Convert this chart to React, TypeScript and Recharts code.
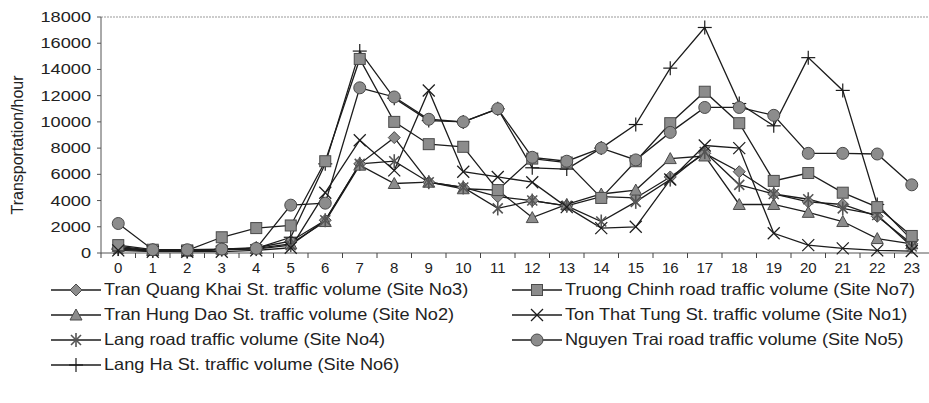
import React from "react";
import {
  LineChart,
  Line,
  XAxis,
  YAxis,
  ReferenceLine,
} from "recharts";

const hours = [0, 1, 2, 3, 4, 5, 6, 7, 8, 9, 10, 11, 12, 13, 14, 15, 16, 17, 18, 19, 20, 21, 22, 23];
const yTicks = [0, 2000, 4000, 6000, 8000, 10000, 12000, 14000, 16000, 18000];

const tranQuangKhai = [400, 200, 150, 300, 400, 900, 2500, 6800, 8800, 5400, 5000, 4300, 4000, 3600, 4300, 4200, 5800, 7600, 6200, 4500, 3900, 3700, 2800, 700];
const tranHungDao = [500, 200, 150, 300, 350, 700, 2400, 6700, 5300, 5400, 4900, 4800, 2700, 3700, 4500, 4800, 7200, 7400, 3700, 3700, 3100, 2400, 1100, 700];
const langRoad = [300, 150, 100, 250, 300, 600, 2500, 6800, 7000, 5400, 5000, 3400, 4000, 3600, 2400, 3900, 5600, 7700, 5200, 4500, 4100, 3400, 2900, 500];
const langHa = [300, 200, 150, 300, 350, 1200, 6800, 15400, 11800, 10100, 10000, 11000, 6500, 6400, 8000, 9800, 14100, 17200, 11400, 9700, 14900, 12400, 3700, 1000];
const truongChinh = [600, 250, 200, 1200, 1900, 2100, 7000, 14800, 10000, 8300, 8100, 4800, 7200, 6900, 4200, 7000, 9900, 12300, 9900, 5500, 6100, 4600, 3500, 1300];
const tonThatTung = [200, 100, 100, 100, 200, 400, 4600, 8600, 6300, 12400, 6200, 5800, 5400, 3500, 1900, 2000, 5600, 8200, 8000, 1500, 600, 350, 200, 150];
const nguyenTrai = [2250, 250, 250, 300, 350, 3650, 3800, 12600, 11900, 10200, 10000, 11000, 7300, 7000, 8000, 7100, 9200, 11100, 11100, 10500, 7600, 7600, 7550, 5200];

type Shape = "diamond" | "triangle" | "asterisk" | "plus" | "square" | "x" | "circle";

const series: { key: string; name: string; shape: Shape; values: number[] }[] = [
  { key: "s3", name: "Tran Quang Khai St. traffic volume (Site No3)", shape: "diamond", values: tranQuangKhai },
  { key: "s2", name: "Tran Hung Dao St. traffic volume (Site No2)", shape: "triangle", values: tranHungDao },
  { key: "s4", name: "Lang road traffic volume (Site No4)", shape: "asterisk", values: langRoad },
  { key: "s6", name: "Lang Ha St. traffic volume (Site No6)", shape: "plus", values: langHa },
  { key: "s7", name: "Truong Chinh road traffic volume (Site No7)", shape: "square", values: truongChinh },
  { key: "s1", name: "Ton That Tung St. traffic volume (Site No1)", shape: "x", values: tonThatTung },
  { key: "s5", name: "Nguyen Trai road traffic volume (Site No5)", shape: "circle", values: nguyenTrai },
];

const data = hours.map((h, i) => {
  const row: Record<string, number> = { hour: h };
  series.forEach((s) => (row[s.key] = s.values[i]));
  return row;
});

const FILL = "#8c8c8c";
const EDGE = "#4a4a4a";
const INK = "#1c1c1c";

function Marker({ shape, cx, cy }: { shape: Shape; cx: number; cy: number }) {
  switch (shape) {
    case "diamond":
      return (
        <polygon
          points={`${cx},${cy - 6} ${cx + 6},${cy} ${cx},${cy + 6} ${cx - 6},${cy}`}
          fill={FILL}
          stroke={EDGE}
          strokeWidth={1}
        />
      );
    case "triangle":
      return (
        <polygon
          points={`${cx},${cy - 6} ${cx + 6},${cy + 5} ${cx - 6},${cy + 5}`}
          fill={FILL}
          stroke={EDGE}
          strokeWidth={1}
        />
      );
    case "square":
      return <rect x={cx - 5.5} y={cy - 5.5} width={11} height={11} fill={FILL} stroke={EDGE} strokeWidth={1} />;
    case "circle":
      return <circle cx={cx} cy={cy} r={6} fill={FILL} stroke={EDGE} strokeWidth={1} />;
    case "x":
      return (
        <g stroke={INK} strokeWidth={1.3}>
          <line x1={cx - 6} y1={cy - 6} x2={cx + 6} y2={cy + 6} />
          <line x1={cx - 6} y1={cy + 6} x2={cx + 6} y2={cy - 6} />
        </g>
      );
    case "asterisk":
      return (
        <g stroke="#555" strokeWidth={1.6}>
          <line x1={cx - 5} y1={cy - 5} x2={cx + 5} y2={cy + 5} />
          <line x1={cx - 5} y1={cy + 5} x2={cx + 5} y2={cy - 5} />
          <line x1={cx} y1={cy - 7} x2={cx} y2={cy + 7} />
        </g>
      );
    case "plus":
      return (
        <g stroke={INK} strokeWidth={1.2}>
          <line x1={cx - 7} y1={cy} x2={cx + 7} y2={cy} />
          <line x1={cx} y1={cy - 7} x2={cx} y2={cy + 7} />
        </g>
      );
  }
  return null;
}

const makeDot = (shape: Shape) => (props: any) => {
  const { cx, cy, index } = props;
  if (cx == null || cy == null) return <g key={`${shape}-${index}`} />;
  return (
    <g key={`${shape}-${index}`}>
      <Marker shape={shape} cx={cx} cy={cy} />
    </g>
  );
};

const XTick = (props: any) => {
  const { x, y, payload } = props;
  return (
    <g>
      <line x1={x - 17.25} y1={y} x2={x - 17.25} y2={y + 5} stroke="#444" />
      <text x={x} y={y + 20} textAnchor="middle" fontSize={15} fill="#222" fontFamily="Liberation Sans, Arial">
        {payload.value}
      </text>
    </g>
  );
};

const YTick = (props: any) => {
  const { x, y, payload } = props;
  return (
    <text
      transform={`translate(${x - 2},${y + 5}) scale(1.3,1)`}
      textAnchor="end"
      fontSize={14}
      fill="#222"
      fontFamily="Liberation Sans, Arial"
    >
      {payload.value}
    </text>
  );
};

function LegendItem({ shape, name }: { shape: Shape; name: string }) {
  return (
    <div style={{ display: "flex", alignItems: "center", height: 25, whiteSpace: "nowrap" }}>
      <svg width={50} height={16} style={{ marginRight: 3, flex: "none" }}>
        <line x1={0} y1={8} x2={50} y2={8} stroke={INK} strokeWidth={1.3} />
        <Marker shape={shape} cx={25} cy={8} />
      </svg>
      <span style={{ display: "inline-block", transform: "scaleX(1.1)", transformOrigin: "left center" }}>
        {name}
      </span>
    </div>
  );
}

export default function App() {
  return (
    <div style={{ position: "absolute", left: 0, top: 0, width: 929, height: 403, background: "#fff" }}>
      <LineChart width={929} height={403} data={data} margin={{ top: 17, right: 0, bottom: 120, left: 0 }}>
        <XAxis
          dataKey="hour"
          type="number"
          domain={[-0.5, 23.5]}
          ticks={hours}
          interval={0}
          height={30}
          tickSize={0}
          tickMargin={0}
          tickLine={false}
          axisLine={{ stroke: "#555" }}
          tick={<XTick />}
        />
        <YAxis
          domain={[0, 18000]}
          ticks={yTicks}
          width={101}
          tickSize={4}
          tickMargin={4}
          tickLine={{ stroke: "#555" }}
          axisLine={{ stroke: "#555" }}
          tick={<YTick />}
          label={{
            value: "Transportation/hour",
            angle: -90,
            position: "insideLeft",
            dx: 12,
            dy: 10,
            style: { textAnchor: "middle", fontSize: 16, fill: "#222", fontFamily: "Liberation Sans, Arial" },
          }}
        />
        <ReferenceLine y={18000} stroke="#999" strokeDasharray="2 1" />
        {series.map((s) => (
          <Line
            key={s.key}
            dataKey={s.key}
            name={s.name}
            type="linear"
            stroke={INK}
            strokeWidth={1.3}
            dot={makeDot(s.shape)}
            activeDot={false}
            isAnimationActive={false}
          />
        ))}
      </LineChart>
      <div
        style={{
          position: "absolute",
          left: 51,
          top: 277,
          display: "grid",
          gridTemplateColumns: "461px 420px",
          fontFamily: "Liberation Sans, Arial",
          fontSize: 16.5,
          color: "#222",
        }}
      >
        <LegendItem shape="diamond" name={series[0].name} />
        <LegendItem shape="square" name={series[4].name} />
        <LegendItem shape="triangle" name={series[1].name} />
        <LegendItem shape="x" name={series[5].name} />
        <LegendItem shape="asterisk" name={series[2].name} />
        <LegendItem shape="circle" name={series[6].name} />
        <LegendItem shape="plus" name={series[3].name} />
      </div>
    </div>
  );
}
